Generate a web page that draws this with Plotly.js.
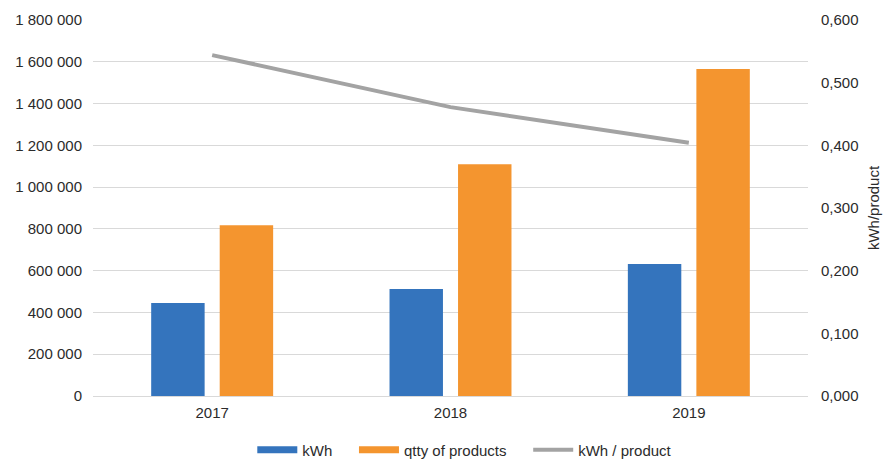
<!DOCTYPE html>
<html>
<head>
<meta charset="utf-8">
<script src="https://cdn.plot.ly/plotly-3.0.1.min.js"></script>
<style>html,body{margin:0;padding:0;background:#fff;}#chart{width:891px;height:461px;}</style>
</head>
<body>
<div id="chart"></div>
<script>
const years = ["2017", "2018", "2019"];
const kwh = [445000, 512000, 632000];
const qtty = [818000, 1110000, 1565000];
const kwhPerProduct = [0.544, 0.461, 0.404];
const leftTicks = [0, 200000, 400000, 600000, 800000, 1000000, 1200000, 1400000, 1600000, 1800000];
const rightTicks = [0, 0.1, 0.2, 0.3, 0.4, 0.5, 0.6];
const seriesNames = ["kWh", "qtty of products", "kWh / product"];

const BLUE = "#3474bd", ORANGE = "#f4952f", GRAY = "#a3a3a3";
const FONT = {family: "Liberation Sans, Arial, sans-serif", size: 15, color: "#2b2b2b"};
const PAD = "\u00a0\u00a0\u00a0\u00a0";

const traces = [
  {type: "bar", name: seriesNames[0], x: years, y: kwh, marker: {color: BLUE}, showlegend: false, legendgroup: "a"},
  {type: "bar", name: seriesNames[1], x: years, y: qtty, marker: {color: ORANGE}, showlegend: false, legendgroup: "b"},
  {type: "scatter", mode: "lines", name: seriesNames[2], x: years, y: kwhPerProduct, yaxis: "y2",
   line: {color: GRAY, width: 4}, showlegend: false, legendgroup: "c"},
  {type: "scatter", mode: "lines", name: seriesNames[0] + PAD, x: [null], y: [null], line: {color: BLUE, width: 7}, legendgroup: "a"},
  {type: "scatter", mode: "lines", name: seriesNames[1] + PAD, x: [null], y: [null], line: {color: ORANGE, width: 7}, legendgroup: "b"},
  {type: "scatter", mode: "lines", name: seriesNames[2], x: [null], y: [null], yaxis: "y2", line: {color: GRAY, width: 4}, legendgroup: "c"}
];

const layout = {
  width: 891, height: 461,
  margin: {l: 93, r: 83, t: 20, b: 65},
  paper_bgcolor: "#fff", plot_bgcolor: "#fff",
  font: FONT,
  separators: ", ",
  barmode: "group", bargap: 0.425, bargroupgap: 0.22,
  xaxis: {type: "category", tickvals: years, ticktext: years, showgrid: false, showline: false, ticks: "", zeroline: false,
          tickfont: FONT, automargin: false, ticklabelstandoff: 6},
  yaxis: {range: [0, 1800000], tickvals: leftTicks, tickformat: ",d", gridcolor: "#d9d9d9", gridwidth: 1,
          zeroline: true, zerolinecolor: "#d9d9d9", zerolinewidth: 1, showline: false, ticks: "", tickfont: FONT,
          automargin: false, ticklabelstandoff: 10},
  yaxis2: {overlaying: "y", side: "right", range: [0, 0.6], tickvals: rightTicks, tickformat: ".3f",
           showgrid: false, zeroline: false, showline: false, ticks: "", tickfont: FONT, automargin: false,
           ticklabelstandoff: 12,
           title: {text: "kWh/product", font: FONT, standoff: 10}},
  legend: {orientation: "h", x: 0.52, xanchor: "center", yref: "container", y: 0.024, yanchor: "middle", font: FONT,
           itemwidth: 40, traceorder: "normal"},
  showlegend: true
};

Plotly.newPlot("chart", traces, layout, {displayModeBar: false, staticPlot: true});
</script>
</body>
</html>
